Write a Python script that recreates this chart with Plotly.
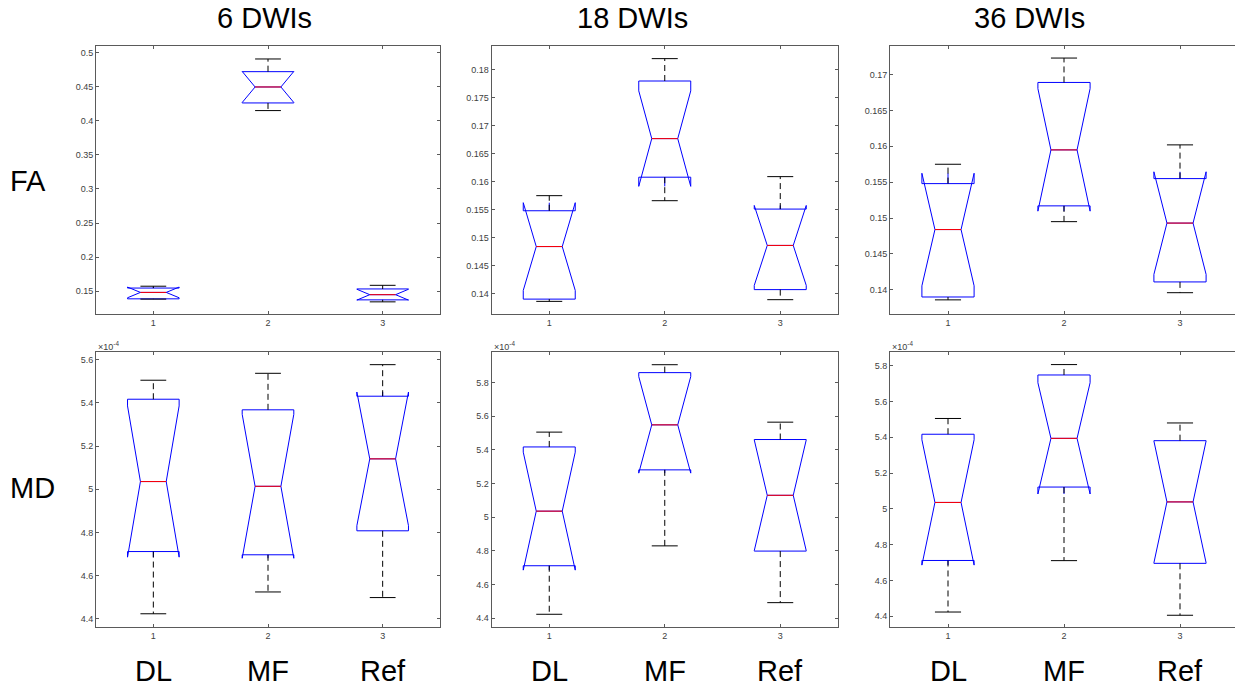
import math
import plotly.graph_objects as go

# ---------------- data ----------------
GROUPS = ["DL", "MF", "Ref"]
POSITIONS = [1, 2, 3]
N_SUBJECTS = 10          # notch half-span = 1.57 * IQR / sqrt(n)  (MATLAB rule)
COLUMN_TITLES = ["6 DWIs", "18 DWIs", "36 DWIs"]
ROW_LABELS = ["FA", "MD"]

# FA, 6 DWIs
FA6_HI = [0.1575, 0.4903, 0.1588]
FA6_Q3 = [0.1548, 0.4717, 0.1535]
FA6_MED = [0.1484, 0.4493, 0.1451]
FA6_Q1 = [0.1390, 0.4259, 0.1375]
FA6_LO = [0.1386, 0.4147, 0.1346]

# FA, 18 DWIs
FA18_HI = [0.1575, 0.1820, 0.1609]
FA18_Q3 = [0.1548, 0.1780, 0.1551]
FA18_MED = [0.1484, 0.1677, 0.1486]
FA18_Q1 = [0.1390, 0.1608, 0.1407]
FA18_LO = [0.1386, 0.1566, 0.1389]

# FA, 36 DWIs
FA36_HI = [0.1575, 0.1723, 0.1602]
FA36_Q3 = [0.1548, 0.1689, 0.1555]
FA36_MED = [0.1484, 0.1595, 0.1493]
FA36_Q1 = [0.1390, 0.1517, 0.1411]
FA36_LO = [0.1386, 0.1495, 0.1396]

# MD (x 10^-4), 6 DWIs
MD6_HI = [5.505, 5.537, 5.577]
MD6_Q3 = [5.417, 5.368, 5.431]
MD6_MED = [5.036, 5.014, 5.141]
MD6_Q1 = [4.712, 4.697, 4.808]
MD6_LO = [4.424, 4.525, 4.499]

# MD (x 10^-4), 18 DWIs
MD18_HI = [5.505, 5.905, 5.564]
MD18_Q3 = [5.417, 5.858, 5.461]
MD18_MED = [5.036, 5.548, 5.130]
MD18_Q1 = [4.712, 5.281, 4.799]
MD18_LO = [4.424, 4.830, 4.493]

# MD (x 10^-4), 36 DWIs
MD36_HI = [5.505, 5.806, 5.480]
MD36_Q3 = [5.417, 5.748, 5.381]
MD36_MED = [5.036, 5.394, 5.039]
MD36_Q1 = [4.712, 5.122, 4.696]
MD36_LO = [4.424, 4.711, 4.406]

# tick values of each panel's y axis
FA6_TICKS = [0.15, 0.2, 0.25, 0.3, 0.35, 0.4, 0.45, 0.5]
FA18_TICKS = [0.14, 0.145, 0.15, 0.155, 0.16, 0.165, 0.17, 0.175, 0.18]
FA36_TICKS = [0.14, 0.145, 0.15, 0.155, 0.16, 0.165, 0.17]
MD6_TICKS = [4.4, 4.6, 4.8, 5.0, 5.2, 5.4, 5.6]
MD18_TICKS = [4.4, 4.6, 4.8, 5.0, 5.2, 5.4, 5.6, 5.8]
MD36_TICKS = [4.4, 4.6, 4.8, 5.0, 5.2, 5.4, 5.6, 5.8]
X_TICK_LABELS = ["1", "2", "3"]

# ---------------- layout / style ----------------
PAGE_W, PAGE_H = 1243, 691
OFF = 8                      # default page margin around the plot div
W, H = PAGE_W - OFF, PAGE_H - OFF
FONT = "Liberation Sans, Arial, Helvetica, sans-serif"
BOX_W = 0.45
CAP_W = BOX_W / 2
MED_W = BOX_W / 2
BLUE = "#0000ff"
RED = "#ff0000"
AXIS_COLOR = "#5a5a5a"
TICK_FONT = dict(family=FONT, size=9, color="#404040")


def px_x(v):
    return (v - OFF) / W


def px_y(v):
    return 1 - (v - OFF) / H


COL_X = [(96, 440), (491.5, 838), (890, 1238)]
ROW_Y = [(46, 314), (352, 627)]

panels = [
    (0, 0, FA6_HI, FA6_Q3, FA6_MED, FA6_Q1, FA6_LO, [0.1168, 0.5093], FA6_TICKS),
    (0, 1, FA18_HI, FA18_Q3, FA18_MED, FA18_Q1, FA18_LO, [0.13634, 0.18426], FA18_TICKS),
    (0, 2, FA36_HI, FA36_Q3, FA36_MED, FA36_Q1, FA36_LO, [0.13663, 0.17398], FA36_TICKS),
    (1, 0, MD6_HI, MD6_Q3, MD6_MED, MD6_Q1, MD6_LO, [4.3628, 5.6356], MD6_TICKS),
    (1, 1, MD18_HI, MD18_Q3, MD18_MED, MD18_Q1, MD18_LO, [4.3485, 5.9804], MD18_TICKS),
    (1, 2, MD36_HI, MD36_Q3, MD36_MED, MD36_Q1, MD36_LO, [4.3404, 5.8763], MD36_TICKS),
]

fig = go.Figure()
layout_axes = {}
annotations = []

for k, (row, col, hi, q3, med, q1, lo, yr, yticks) in enumerate(panels):
    xa = "x" if k == 0 else f"x{k + 1}"
    ya = "y" if k == 0 else f"y{k + 1}"
    notch = [1.57 * (b - a) / math.sqrt(N_SUBJECTS) for a, b in zip(q1, q3)]

    # whiskers (dashed black)
    wx, wy = [], []
    for p, h_, t, b, l_ in zip(POSITIONS, hi, q3, q1, lo):
        wx += [p, p, None, p, p, None]
        wy += [t, h_, None, b, l_, None]
    fig.add_trace(go.Scatter(x=wx, y=wy, mode="lines", xaxis=xa, yaxis=ya,
                             line=dict(color="black", width=1, dash="6px,4px"),
                             hoverinfo="skip", showlegend=False))
    # whisker caps
    cx, cy = [], []
    for p, h_, l_ in zip(POSITIONS, hi, lo):
        cx += [p - CAP_W / 2, p + CAP_W / 2, None, p - CAP_W / 2, p + CAP_W / 2, None]
        cy += [h_, h_, None, l_, l_, None]
    fig.add_trace(go.Scatter(x=cx, y=cy, mode="lines", xaxis=xa, yaxis=ya,
                             line=dict(color="black", width=1),
                             hoverinfo="skip", showlegend=False))
    # notched boxes
    fig.add_trace(go.Box(x=POSITIONS, q1=q1, median=med, q3=q3,
                         lowerfence=q1, upperfence=q3, notchspan=notch,
                         notched=True, notchwidth=0.25, width=BOX_W, whiskerwidth=0,
                         line=dict(color=BLUE, width=1), fillcolor="rgba(0,0,0,0)",
                         boxpoints=False, xaxis=xa, yaxis=ya,
                         hoverinfo="skip", showlegend=False))
    # red median lines
    mx, my = [], []
    for p, m in zip(POSITIONS, med):
        mx += [p - MED_W / 2, p + MED_W / 2, None]
        my += [m, m, None]
    fig.add_trace(go.Scatter(x=mx, y=my, mode="lines", xaxis=xa, yaxis=ya,
                             line=dict(color=RED, width=1),
                             hoverinfo="skip", showlegend=False))

    x0, x1 = COL_X[col]
    y0, y1 = ROW_Y[row]
    axcommon = dict(showline=True, linecolor=AXIS_COLOR, linewidth=1, mirror="ticks",
                    ticks="inside", ticklen=3, tickcolor=AXIS_COLOR, tickwidth=1,
                    showgrid=False, zeroline=False, tickfont=TICK_FONT)
    layout_axes["xaxis" if k == 0 else f"xaxis{k + 1}"] = dict(
        domain=[px_x(x0), px_x(x1)], range=[0.5, 3.5], anchor=ya,
        tickvals=POSITIONS, ticktext=X_TICK_LABELS, **axcommon)
    layout_axes["yaxis" if k == 0 else f"yaxis{k + 1}"] = dict(
        domain=[px_y(y1), px_y(y0)], range=yr, anchor=xa,
        tickvals=yticks, ticktext=[f"{v:g}" for v in yticks], **axcommon)

    if row == 1:
        annotations.append(dict(text="\u00d710<sup>-4</sup>", xref="paper", yref="paper",
                                x=px_x(x0), y=px_y(y0), xanchor="left", yanchor="bottom",
                                showarrow=False, font=dict(family=FONT, size=9, color="#404040"),
                                yshift=-2))
        for p, g in zip(POSITIONS, GROUPS):
            annotations.append(dict(text=g, xref=xa, yref="paper", x=p, y=px_y(671),
                                    xanchor="center", yanchor="middle", showarrow=False,
                                    font=dict(family=FONT, size=29, color="black")))

TITLE_X = [264, 632, 1029]
for tx, t in zip(TITLE_X, COLUMN_TITLES):
    annotations.append(dict(text=t, xref="paper", yref="paper", x=px_x(tx), y=px_y(18),
                            xanchor="center", yanchor="middle", showarrow=False,
                            font=dict(family=FONT, size=29, color="black")))
ROW_LABEL_Y = [181, 488]
for ry, t in zip(ROW_LABEL_Y, ROW_LABELS):
    annotations.append(dict(text=t, xref="paper", yref="paper", x=px_x(8), y=px_y(ry),
                            xanchor="left", yanchor="middle", showarrow=False,
                            font=dict(family=FONT, size=29, color="black")))

fig.update_layout(width=W, height=H, margin=dict(l=0, r=0, t=0, b=0),
                  paper_bgcolor="white", plot_bgcolor="white",
                  annotations=annotations, **layout_axes)

fig.write_html("out.html")
